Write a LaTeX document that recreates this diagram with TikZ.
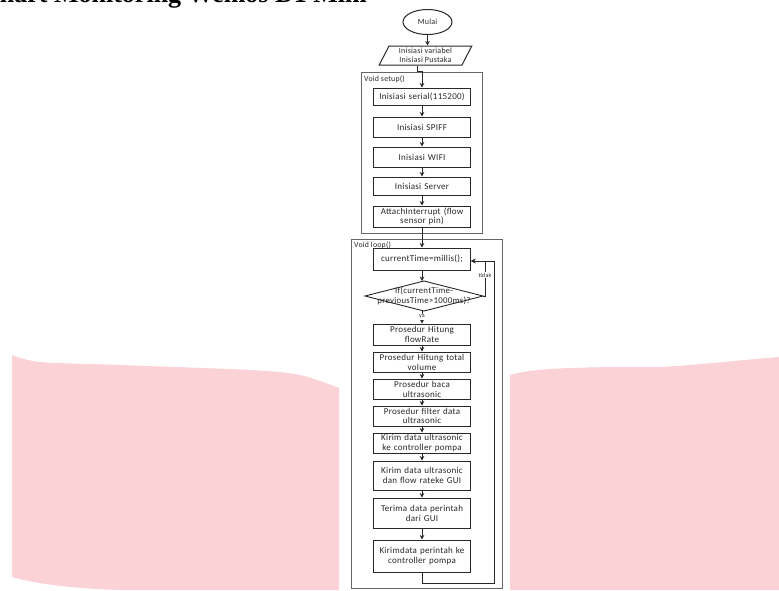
\documentclass[tikz,border=0pt]{standalone}
\usepackage{fontspec}
\setmainfont{Carlito}[LetterSpace=3]
\newfontfamily\titlefont{Liberation Serif}
\usetikzlibrary{arrows.meta,shapes.geometric,calc}
\definecolor{pinkbg}{RGB}{251,211,214}
\definecolor{ink}{RGB}{40,40,40}
\begin{document}
\begin{tikzpicture}[x=1pt,y=-1pt,
  box/.style={draw=ink, line width=1pt, fill=white, minimum width=97pt, text width=95pt,
    align=center, inner sep=0pt, text=ink, font=\fontsize{9}{9.8}\selectfont},
  frame/.style={draw=black!60, line width=1.4pt, inner sep=0pt, fill=white},
  framelabel/.style={anchor=west, inner sep=0pt, text=ink, font=\fontsize{7.8}{9}\selectfont},
  arr/.style={-{Stealth[length=4.5pt,width=4.5pt]}, line width=0.9pt, draw=ink},
  ln/.style={line width=0.9pt, draw=ink},
  tag/.style={fill=white, inner sep=0.6pt, text=ink, font=\fontsize{6}{7}\selectfont}]
\useasboundingbox (0,0) rectangle (779,590);
\clip (0,0) rectangle (779,590);

% pink background shapes
\fill[pinkbg] plot[smooth] coordinates {(12,355) (40,362) (120,365) (250,370) (300,375) (339,388)}
  -- (339,590) -- (120,590) .. controls (60,588) and (30,582) .. (12,577) -- cycle;
\fill[pinkbg] (510,375) .. controls (530,369) and (560,368) .. (610,367) -- (660,367)
  .. controls (700,365) and (740,360) .. (779,357) -- (779,590) -- (510,590) -- cycle;

% title (cut off at top, as in the reference)
\node[anchor=base east, inner sep=0pt, font=\titlefont\bfseries\fontsize{26}{28}\selectfont] (title)
  at (367,2.5) {Flowchart Monitoring Wemos D1 Mini};

% frames
\node[frame, anchor=north west, minimum width=151pt, minimum height=349pt] (loopframe) at (351,239) {};
\node[frame, anchor=north west, minimum width=121pt, minimum height=161pt] (setupframe) at (361,72) {};
\node[framelabel] (setuplabel) at (364,79.5) {Void setup()};
\node[framelabel] (looplabel) at (354,245.5) {Void loop()};

% start
\node[draw=ink, line width=1pt, ellipse, minimum width=49pt, minimum height=25pt, inner sep=0pt,
  text=ink, font=\fontsize{8}{9}\selectfont] (start) at (427.5,22) {Mulai};
\node[trapezium, trapezium left angle=64, trapezium right angle=116, trapezium stretches=true,
  draw=ink, line width=1pt, minimum width=93pt, minimum height=19pt, inner sep=0pt, align=center,
  text=ink, font=\fontsize{8}{9}\selectfont] (para) at (425.5,55.5) {Inisiasi variabel\\Inisiasi Pustaka};

% setup boxes
\node[box, minimum height=17pt] (s1) at (422,96.5) {Inisiasi serial(115200)};
\node[box, minimum height=20pt] (s2) at (422,127) {Inisiasi SPIFF};
\node[box, minimum height=20pt] (s3) at (422,157) {Inisiasi WIFI};
\node[box, minimum height=18pt] (s4) at (422,186) {Inisiasi Server};
\node[box, minimum height=21pt] (s5) at (422,216.5) {AttachInterrupt (flow\\sensor pin)};

% loop boxes
\node[box, minimum height=22pt] (l1) at (422,259) {currentTime=millis();};
\coordinate (dL) at (365,296);
\coordinate (dT) at (424,281);
\coordinate (dR) at (483,296);
\coordinate (dB) at (424,311);
\draw[ln, fill=white] (dL) -- (dT) -- (dR) -- (dB) -- cycle;
\node[inner sep=0pt, align=center, text=ink, font=\fontsize{8.8}{9.8}\selectfont] (dtext) at (424,296)
  {If(currentTime-\\previousTime>1000ms)?};
\node[box, minimum height=21pt] (l2) at (422,334.5) {Prosedur Hitung\\flowRate};
\node[box, minimum height=20pt] (l3) at (422,362) {Prosedur Hitung total\\volume};
\node[box, minimum height=20pt] (l4) at (422,389) {Prosedur baca\\ultrasonic};
\node[box, minimum height=20pt] (l5) at (422,416) {Prosedur filter data\\ultrasonic};
\node[box, minimum height=20pt] (l6) at (422,443) {Kirim data ultrasonic\\ke controller pompa};
\node[box, minimum height=29pt] (l7) at (422,475.5) {Kirim data ultrasonic\\dan flow rateke GUI};
\node[box, minimum height=30pt] (l8) at (422,513) {Terima data perintah\\dari GUI};
\node[box, minimum height=32pt] (l9) at (422,556) {Kirimdata perintah ke\\controller pompa};

% connectors
\draw[arr] (start.south) -- (start.south |- para.north);
\draw[arr] ($(para.south)+(-8.5,0)$) |- ($(s1.north)+(0,-16)$) -- (s1.north);
\draw[arr] (s1) -- (s2);
\draw[arr] (s2) -- (s3);
\draw[arr] (s3) -- (s4);
\draw[arr] (s4) -- (s5);
\draw[arr] (s5) -- (l1);
\draw[arr] (l1.south) -- (l1.south |- dT);
\coordinate (back) at ($(l1.east)+(0,2)$);
\draw[arr] (dR) -- ++(2,0) |- (back);
\node[tag] (tidak) at (485,275) {tidak};
\draw[arr] (dB -| l2.north) -- (l2.north);
\node[tag] (ya) at (422,317) {ya};
\draw[arr] (l2) -- (l3);
\draw[arr] (l3) -- (l4);
\draw[arr] (l4) -- (l5);
\draw[arr] (l5) -- (l6);
\draw[arr] (l6) -- (l7);
\draw[arr] (l7) -- (l8);
\draw[arr] (l8) -- (l9);
\coordinate (lb) at ($(l9.south)+(0,11)$);
\coordinate (lr) at ($(lb)+(72,0)$);
\draw[arr] (l9.south) -- (lb) -- (lr) |- (back);
\end{tikzpicture}
\end{document}
